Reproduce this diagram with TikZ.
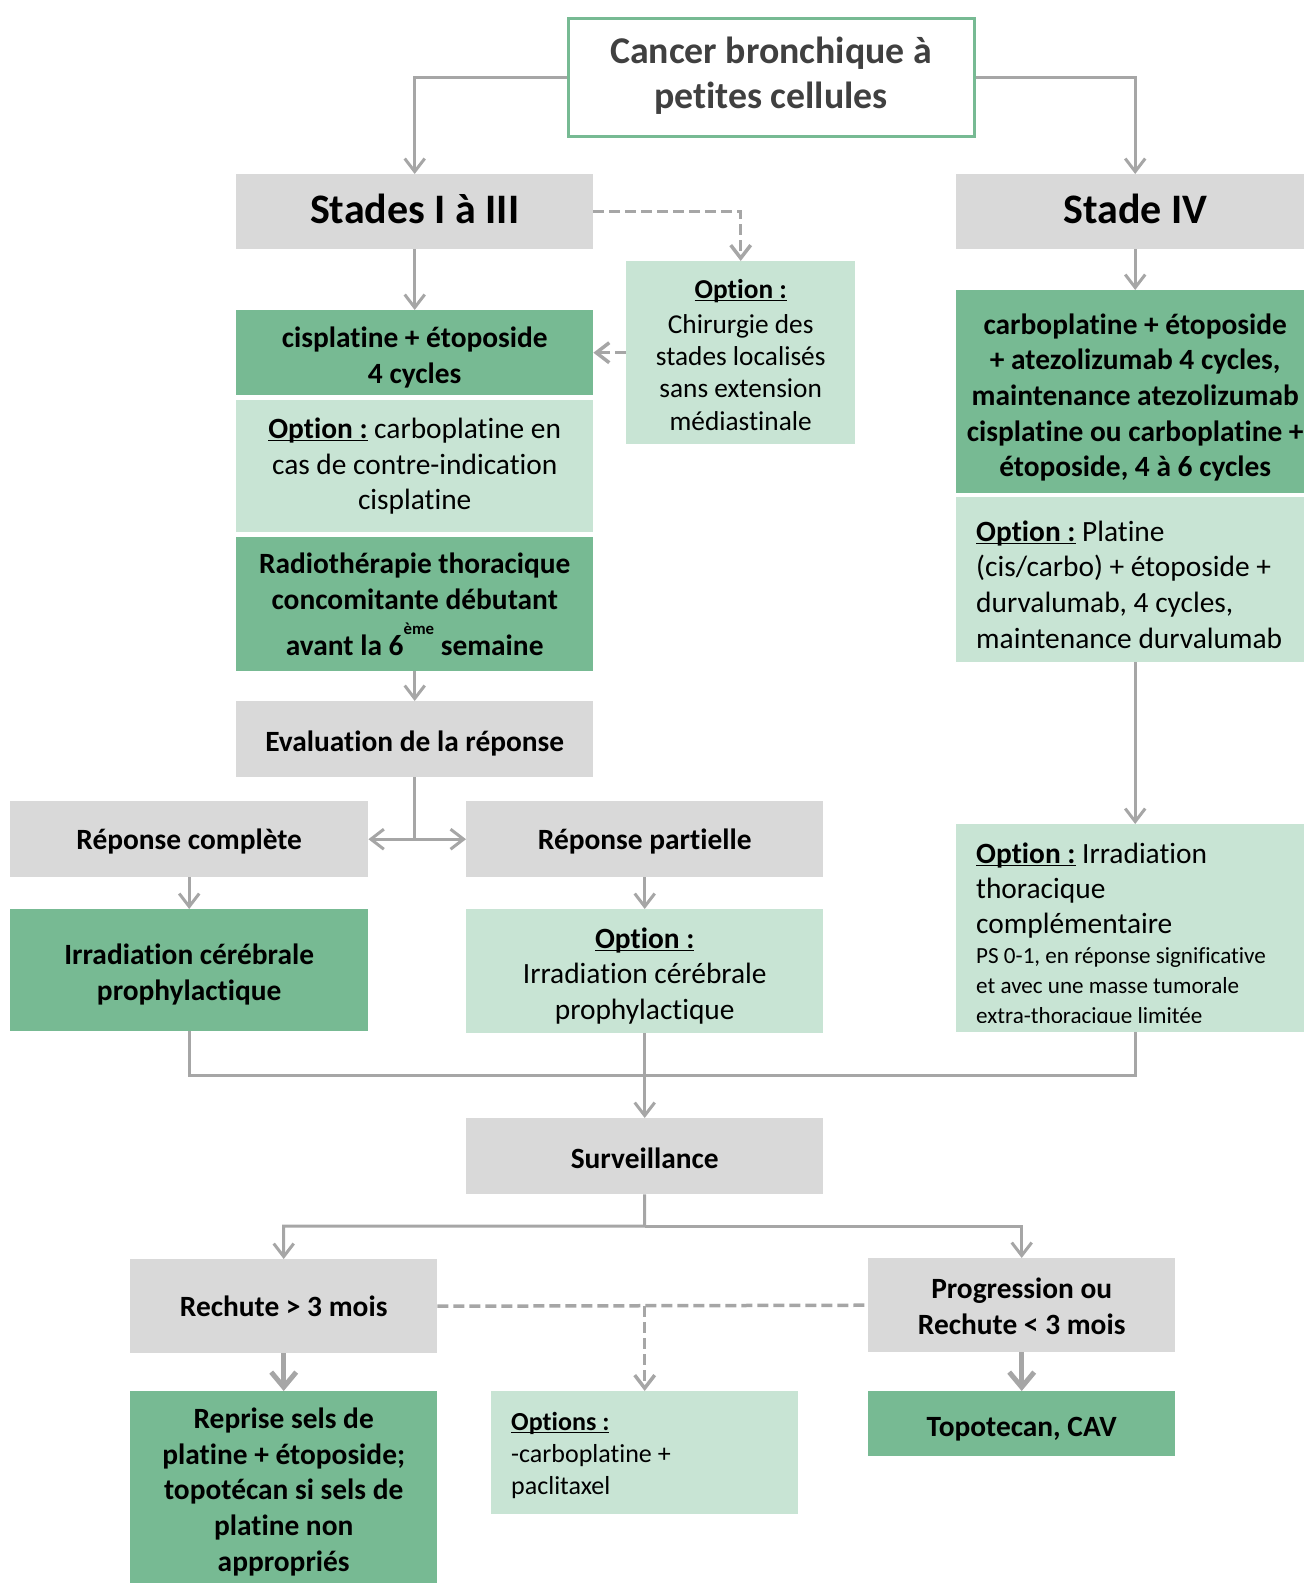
\documentclass[tikz,border=0pt]{standalone}
\usepackage{fontspec}
\setmainfont{Carlito}[Ligatures=CommonOff]
\usetikzlibrary{arrows.meta}
\definecolor{boxgray}{RGB}{217,217,217}
\definecolor{boxgreen}{RGB}{119,186,147}
\definecolor{boxlight}{RGB}{200,228,212}
\definecolor{linegray}{RGB}{166,166,166}
\definecolor{titlegray}{RGB}{64,64,64}
\newcommand\natsp{\spaceskip=0pt\xspaceskip=0pt\frenchspacing}
\newsavebox\ulbox
\newcommand\optul[1]{\sbox\ulbox{#1}\rlap{\rule[-3pt]{\wd\ulbox}{1.6pt}}\usebox\ulbox}
\tikzset{>={Straight Barb[length=13pt,width=20pt]}}
\tikzset{
  basebox/.style={anchor=north west, inner sep=0pt, align=flush center, text width=357pt,
    font=\fontsize{29.4}{36}\selectfont\bfseries, execute at begin node=\natsp},
  graybox/.style={basebox, fill=boxgray},
  greenbox/.style={basebox, fill=boxgreen},
  optbox/.style={basebox, fill=boxlight, font=\fontsize{29.4}{36}\selectfont},
  leftbox/.style={optbox, align=flush left, inner xsep=20pt, text width=318pt},
  conn/.style={draw=linegray, line width=3pt},
  dashconn/.style={conn, line width=3.5pt, dash pattern=on 11pt off 5pt},
  thickconn/.style={conn, line width=5pt, >={Straight Barb[length=15pt,width=25pt]}}
}

\begin{document}
\begin{tikzpicture}[x=1pt,y=-1pt]
      \useasboundingbox (0,0) rectangle (1304,1583);
      \node[basebox, draw=boxgreen, line width=3pt, fill=white, text=titlegray, font=\fontsize{37.8}{45.4}\selectfont\bfseries, text width=406pt, text height=45pt, text depth=73pt] (n0) at (566.5,16.5) {Cancer bronchique à\\petites cellules};
      \node[graybox, font=\fontsize{42}{50}\selectfont\bfseries, text height=49pt, text depth=26pt] (n11) at (236,174) {Stades I à III};
      \node[graybox, font=\fontsize{42}{50}\selectfont\bfseries, text width=358pt, text height=49pt, text depth=26pt] (n12) at (956,174) {Stade IV};
      \node[optbox, font=\fontsize{27.3}{32.3}\selectfont, text width=229pt, text height=37pt, text depth=146pt] (n21) at (626,261) {\optul{\textbf{Option :}}\\[2.7pt]Chirurgie des\\stades localisés\\sans extension\\médiastinale};
      \node[greenbox, text height=37pt, text depth=48pt] (n22) at (236,310) {cisplatine + étoposide\\4 cycles};
      \node[optbox, font=\fontsize{29.4}{35.8}\selectfont, text height=38pt, text depth=94pt] (n23) at (236,400) {\optul{\textbf{Option :}} carboplatine en\\cas de contre-indication\\cisplatine};
      \node[greenbox, font=\fontsize{29.4}{36.3}\selectfont\bfseries, text height=36pt, text depth=98pt] (n24) at (236,537) {Radiothérapie thoracique\\concomitante débutant\\[10pt]avant la 6\raisebox{21pt}{\fontsize{16.8}{17}\selectfont ème}\ semaine};
      \node[graybox, text height=50pt, text depth=26pt] (n25) at (236,701) {Evaluation de la réponse};
      \node[graybox, text width=358pt, text height=48pt, text depth=28pt] (n31) at (10,801) {Réponse complète};
      \node[graybox, text height=48pt, text depth=28pt] (n32) at (466,801) {Réponse partielle};
      \node[greenbox, text width=358pt, text height=55pt, text depth=67pt] (n41) at (10,909) {Irradiation cérébrale\\prophylactique};
      \node[optbox, font=\fontsize{29.4}{35.5}\selectfont, text height=39pt, text depth=85pt] (n42) at (466,909) {\optul{\textbf{Option :}}\\Irradiation cérébrale\\prophylactique};
      \node[greenbox, font=\fontsize{29.4}{35.6}\selectfont\bfseries, text width=358pt, text height=44pt, text depth=159pt] (n13) at (956,290) {carboplatine + étoposide\\+ atezolizumab 4 cycles,\\maintenance atezolizumab\\cisplatine ou carboplatine +\\étoposide, 4 à 6 cycles};
      \node[leftbox, font=\fontsize{29.4}{35.7}\selectfont, text height=44pt, text depth=121pt] (n14) at (956,497) {\natsp\optul{\textbf{Option :}} Platine\\(cis/carbo) + étoposide +\\durvalumab, 4 cycles,\\maintenance durvalumab};
      \node[leftbox, font=\fontsize{29.4}{35.3}\selectfont, text height=39pt, text depth=169pt] (n15) at (956,824) {\natsp\optul{\textbf{Option :}} Irradiation\\thoracique\\complémentaire\par\fontsize{23.1}{30}\selectfont\natsp PS 0-1, en réponse significative\\et avec une masse tumorale\\extra-thoracique limitée\par};
      \fill[boxlight] (n15.south west) rectangle ([yshift=9pt]n15.south east);
      \node[graybox, text height=50pt, text depth=26pt] (n5) at (466,1118) {Surveillance};
      \node[graybox, text width=307pt, text height=57pt, text depth=37pt] (n61) at (130,1259) {Rechute > 3 mois};
      \node[graybox, text width=307pt, text height=40pt, text depth=54pt] (n62) at (868,1258) {Progression ou\\Rechute < 3 mois};
      \node[greenbox, font=\fontsize{29.4}{35.8}\selectfont\bfseries, text width=307pt, text height=37pt, text depth=155pt] (n71) at (130,1391) {Reprise sels de\\platine + étoposide;\\topotécan si sels de\\platine non\\appropriés};
      \node[leftbox, font=\fontsize{26}{32}\selectfont, text width=267pt, text height=39pt, text depth=84pt] (n72) at (491,1391) {\natsp\optul{\textbf{Options :}}\\-carboplatine +\\paclitaxel};
      \node[greenbox, text width=307pt, text height=45pt, text depth=20pt] (n73) at (868,1391) {Topotecan, CAV};
      \coordinate (aux1) at (644.5,1075);
      \coordinate (aux2) at (644.5,1226);
      \draw[conn,->] (n0.west) -| (n11.north);
      \draw[conn,->] (n0.east) -| (n12.north);
      \draw[dashconn,->] (n11.east) -| (n21.north);
      \draw[conn,->] (n11.south) -- (n22.north);
      \draw[dashconn,->] (n21.west) -- (n21.west -| n22.east);
      \draw[conn,->] (n24.south) -- (n25.north);
      \draw[conn,->] (n25.south) |- (n31.east);
      \draw[conn,->] (n25.south) |- (n32.west);
      \draw[conn,->] (n31.south) -- (n41.north);
      \draw[conn,->] (n32.south) -- (n42.north);
      \draw[conn,->] (n12.south) -- (n13.north);
      \draw[conn,->] (n14.south) -- (n15.north);
      \draw[conn] (n41.south) |- (aux1) -| (n15.south);
      \draw[conn,->] (n42.south) -- (n5.north);
      \draw[conn,->] (n5.south) -- (aux2) -| (n61.north);
      \draw[conn,->] (aux2) -| (n62.north);
      \draw[thickconn,->] (n61.south) -- (n71.north);
      \draw[thickconn,->] (n62.south) -- (n73.north);
      \draw[dashconn] (n61.east) -- (n62.west);
      \draw[dashconn,->] (n61.east -| n72.north) -- (n72.north);
\end{tikzpicture}
\end{document}
